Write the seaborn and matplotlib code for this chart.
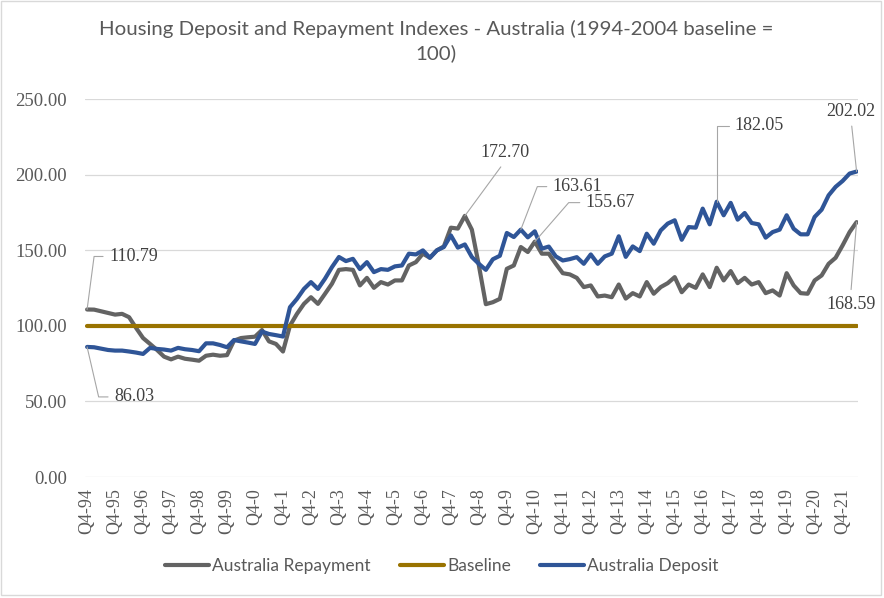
import numpy as np
import pandas as pd
import matplotlib
matplotlib.use("Agg")
import matplotlib.pyplot as plt
from matplotlib.patches import Rectangle
from matplotlib.ticker import FormatStrFormatter
import seaborn as sns

# quarterly index values, Q4-94 .. Q2-22
repayment = [110.79, 110.7, 109.6, 108.5, 107.4, 107.9, 105.7, 98.6, 91.9, 88.0,
             84.0, 79.6, 77.8, 79.6, 78.2, 77.6, 76.9, 80.2, 80.9, 80.2,
             80.6, 90.2, 91.9, 92.4, 92.8, 97.2, 89.7, 88.0, 83.0, 100.1,
             107.9, 114.5, 118.9, 114.5, 121.1, 127.8, 137.0, 137.5, 137.0, 126.7,
             131.7, 125.1, 128.9, 127.3, 130.0, 130.0, 139.9, 142.1, 147.7, 145.0,
             149.9, 152.5, 164.9, 164.3, 172.70, 163.6, 140.0, 114.3, 115.6, 117.8,
             137.7, 139.9, 152.1, 148.8, 155.67, 147.7, 147.7, 141.0, 134.8, 134.0,
             131.7, 125.6, 126.7, 119.4, 120.0, 118.9, 127.3, 118.0, 121.6, 119.4,
             128.9, 121.2, 125.6, 128.2, 132.2, 122.2, 127.3, 125.1, 134.0, 125.6,
             138.4, 130.0, 136.2, 128.2, 131.7, 127.3, 128.9, 121.6, 123.4, 120.0,
             134.8, 126.7, 121.6, 121.2, 130.0, 133.3, 141.0, 145.0, 153.2, 162.0,
             168.59]
deposit = [86.03, 85.8, 84.9, 84.0, 83.6, 83.6, 83.0, 82.3, 81.4, 85.4,
           84.7, 84.3, 83.6, 85.4, 84.5, 84.0, 83.2, 88.4, 88.4, 87.3,
           85.8, 90.6, 89.7, 88.9, 88.0, 96.2, 94.6, 93.8, 92.9, 112.3,
           117.8, 124.4, 128.9, 124.4, 131.1, 138.8, 145.5, 142.8, 144.3, 137.5,
           142.1, 135.5, 137.5, 137.0, 139.3, 139.9, 147.7, 147.2, 149.9, 145.0,
           149.9, 152.1, 159.8, 151.7, 153.8, 145.5, 141.0, 137.0, 144.0, 146.3,
           161.4, 158.7, 163.61, 158.5, 162.5, 151.0, 152.4, 145.9, 143.2, 144.1,
           145.4, 141.0, 147.2, 141.0, 145.9, 147.7, 159.2, 145.6, 152.5, 149.4,
           160.9, 154.3, 163.1, 167.6, 169.8, 156.9, 165.3, 164.9, 177.5, 167.1,
           182.05, 173.1, 181.3, 170.2, 174.6, 168.0, 167.1, 158.3, 162.0, 163.6,
           173.1, 164.2, 160.5, 160.5, 172.0, 176.8, 186.3, 191.9, 195.8, 200.7,
           202.02]
baseline = [100.0] * 111

tick_labels = ["Q4-94", "Q4-95", "Q4-96", "Q4-97", "Q4-98", "Q4-99", "Q4-0",
               "Q4-1", "Q4-2", "Q4-3", "Q4-4", "Q4-5", "Q4-6", "Q4-7", "Q4-8",
               "Q4-9", "Q4-10", "Q4-11", "Q4-12", "Q4-13", "Q4-14", "Q4-15",
               "Q4-16", "Q4-17", "Q4-18", "Q4-19", "Q4-20", "Q4-21"]

series_names = ["Australia Repayment", "Baseline", "Australia Deposit"]
series_colors = ["#636363", "#997300", "#2F5597"]

# (series, quarter index, text offset px, connection style, relpos, ha)
data_labels = [
    ("rep", 0, (22, 53), "angle,angleA=0,angleB=82.5,rad=0", (0.5, 0.5), "left"),
    ("dep", 0, (27, -50), "angle,angleA=0,angleB=-77,rad=0", (0.5, 0.5), "left"),
    ("rep", 54, (40, 63), "arc3", (0.5, 0.0), "center"),
    ("dep", 62, (32, 43), "angle,angleA=0,angleB=69,rad=0", (0.5, 0.5), "left"),
    ("rep", 64, (51, 39), "angle,angleA=0,angleB=49,rad=0", (0.5, 0.5), "left"),
    ("dep", 90, (18, 76), "angle,angleA=0,angleB=90,rad=0", (0.5, 0.5), "left"),
    ("dep", 110, (-5.5, 60), "arc3", (0.5, 0.0), "center"),
    ("rep", 110, (-6, -82), "arc3", (0.5, 1.0), "center"),
]

quarter_idx = np.arange(len(repayment))
df = pd.DataFrame({"q": quarter_idx,
                   "Australia Repayment": repayment,
                   "Baseline": baseline,
                   "Australia Deposit": deposit})
df = df.melt(id_vars="q", var_name="series", value_name="value")

sns.set_theme(style="white")
plt.rcParams["font.family"] = ["Liberation Serif", "DejaVu Serif"]

fig = plt.figure(figsize=(8.84, 5.98), dpi=100)
ax = fig.add_axes([85 / 884, 1 - 477 / 598, 773 / 884, 378 / 598])

sns.lineplot(data=df, x="q", y="value", hue="series", hue_order=series_names,
             palette=series_colors, linewidth=3, ax=ax)
for ln in ax.lines:
    ln.set_solid_capstyle("round")
    ln.set_solid_joinstyle("round")

handles, labels = ax.get_legend_handles_labels()
ax.get_legend().remove()

ax.set_xlim(-0.3, 110.2)
ax.set_ylim(0, 250)
ax.set_yticks([0, 50, 100, 150, 200, 250])
ax.yaxis.set_major_formatter(FormatStrFormatter("%.2f"))
ax.set_xticks(np.arange(0, len(tick_labels) * 4, 4))
ax.set_xticklabels(tick_labels, rotation=90)
ax.set_xlabel("")
ax.set_ylabel("")
ax.grid(axis="y", color="#d9d9d9", linewidth=0.9)
ax.grid(axis="x", visible=False)
for sp in ax.spines.values():
    sp.set_visible(False)
ax.tick_params(axis="x", length=0, pad=8, labelsize=13, labelcolor="#595959")
ax.tick_params(axis="y", length=0, pad=13, labelsize=13.5, labelcolor="#595959")

for which, i, off, conn, rel, ha in data_labels:
    val = repayment[i] if which == "rep" else deposit[i]
    ax.annotate(f"{val:.2f}", xy=(i, val), xytext=off, textcoords="offset pixels",
                ha=ha, va="center", fontsize=13, color="#404040",
                arrowprops=dict(arrowstyle="-", color="#a6a6a6", lw=0.8,
                                connectionstyle=conn, relpos=rel, shrinkB=0))

fig.text(0.493, 1 - 20 / 598,
         "Housing Deposit and Repayment Indexes - Australia (1994-2004 baseline =\n100)",
         ha="center", va="top", fontsize=14.7, color="#595959",
         family=["Lato", "DejaVu Sans"], linespacing=1.4)

leg = fig.legend(handles, labels, loc="center", bbox_to_anchor=(0.5, 1 - 566 / 598),
                 ncol=3, frameon=False, handlelength=2.5, handletextpad=0.2,
                 columnspacing=1.7, prop={"family": ["Lato", "DejaVu Sans"], "size": 12.5})
for t in leg.get_texts():
    t.set_color("#595959")
for h in leg.get_lines():
    h.set_linewidth(3)
    h.set_solid_capstyle("round")

fig.patches.append(Rectangle((0.0006, 1 - 595 / 598), 880 / 884, 595 / 598 - 0.001,
                             transform=fig.transFigure, fill=False,
                             edgecolor="#d9d9d9", linewidth=1))

fig.savefig("out.png", dpi=100)
